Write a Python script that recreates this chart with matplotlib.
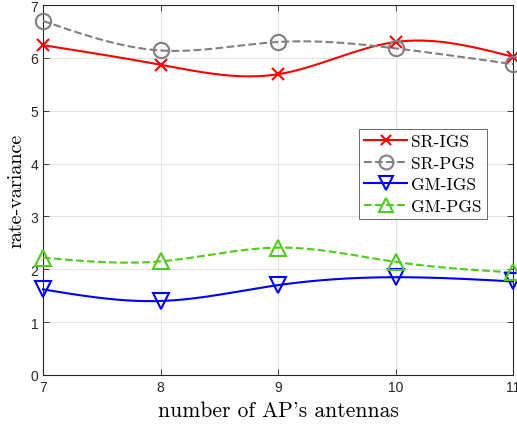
import matplotlib
matplotlib.use('Agg')
import matplotlib.pyplot as plt
import numpy as np

antennas = [7, 8, 9, 10, 11]
sr_igs = [6.24, 5.87, 5.69, 6.30, 6.02]
sr_pgs = [6.70, 6.14, 6.30, 6.18, 5.88]
gm_igs = [1.62, 1.40, 1.70, 1.85, 1.77]
gm_pgs = [2.22, 2.15, 2.41, 2.14, 1.94]
labels = ['SR-IGS', 'SR-PGS', 'GM-IGS', 'GM-PGS']


def spline_curve(x, y, n=200):
    # natural cubic spline, used only to draw the smooth line
    x = np.asarray(x, float)
    y = np.asarray(y, float)
    m = len(x) - 1
    h = np.diff(x)
    A = np.zeros((m + 1, m + 1))
    b = np.zeros(m + 1)
    A[0, 0] = 1
    A[m, m] = 1
    for i in range(1, m):
        A[i, i - 1] = h[i - 1]
        A[i, i] = 2 * (h[i - 1] + h[i])
        A[i, i + 1] = h[i]
        b[i] = 6 * ((y[i + 1] - y[i]) / h[i] - (y[i] - y[i - 1]) / h[i - 1])
    M = np.linalg.solve(A, b)
    xs = np.linspace(x[0], x[-1], n)
    idx = np.clip(np.searchsorted(x, xs, side='right') - 1, 0, m - 1)
    x0, x1 = x[idx], x[idx + 1]
    hh = x1 - x0
    ys = (M[idx] * (x1 - xs) ** 3 / (6 * hh) + M[idx + 1] * (xs - x0) ** 3 / (6 * hh)
          + (y[idx] / hh - M[idx] * hh / 6) * (x1 - xs)
          + (y[idx + 1] / hh - M[idx + 1] * hh / 6) * (xs - x0))
    return xs, ys


fig = plt.figure(figsize=(5.17, 4.27), dpi=100)
ax = fig.add_axes([43 / 517, 51 / 427, 470 / 517, 370 / 427])

styles = [
    dict(color='#ff0000', ls='-', marker='x', ms=8),
    dict(color='#808080', ls='--', marker='o', ms=11),
    dict(color='#0000ff', ls='-', marker='v', ms=11),
    dict(color='#4dcc1a', ls='--', marker='^', ms=11),
]
series = [sr_igs, sr_pgs, gm_igs, gm_pgs]

handles = []
for vals, st, lab in zip(series, styles, labels):
    xs, ys = spline_curve(antennas, vals)
    ax.plot(xs, ys, color=st['color'], ls=st['ls'], lw=1.5, clip_on=False, zorder=3)
    ax.plot(antennas, vals, ls='none', marker=st['marker'], ms=st['ms'],
            mfc='none', mec=st['color'], mew=1.5, clip_on=False, zorder=4)
    h, = ax.plot([], [], color=st['color'], ls=st['ls'], lw=1.5, marker=st['marker'],
                 ms=st['ms'] - 1, mfc='none', mec=st['color'], mew=1.5)
    handles.append(h)

ax.set_xlim(7, 11)
ax.set_ylim(0, 7)
ax.set_xticks(antennas)
ax.set_yticks(range(0, 8))
ax.grid(True, color='#e3e3e3', lw=0.8)
ax.set_axisbelow(True)
ax.tick_params(direction='in', top=True, right=True, length=4, width=0.6,
               labelsize=10, colors='#262626', labelcolor='#262626')
for lab in ax.get_xticklabels() + ax.get_yticklabels():
    lab.set_fontfamily('Liberation Sans')
for s in ax.spines.values():
    s.set_color('#262626')
    s.set_linewidth(0.8)

ax.set_xlabel("number of AP's antennas", fontfamily='cmr10', fontsize=15.5, labelpad=5)
ax.set_ylabel('rate-variance', fontfamily='cmr10', fontsize=14.5)
ax.yaxis.set_label_coords(-0.038, 0.5)

leg = ax.legend(handles, labels, loc='upper left', bbox_to_anchor=(0.672, 0.665),
                prop={'family': 'cmr10', 'size': 12.5}, frameon=True, fancybox=False,
                edgecolor='#262626', handlelength=2.5, handletextpad=0.2,
                borderpad=0.3, labelspacing=0.35, borderaxespad=0)
leg.get_frame().set_linewidth(0.6)

fig.savefig('out.png', dpi=100)
